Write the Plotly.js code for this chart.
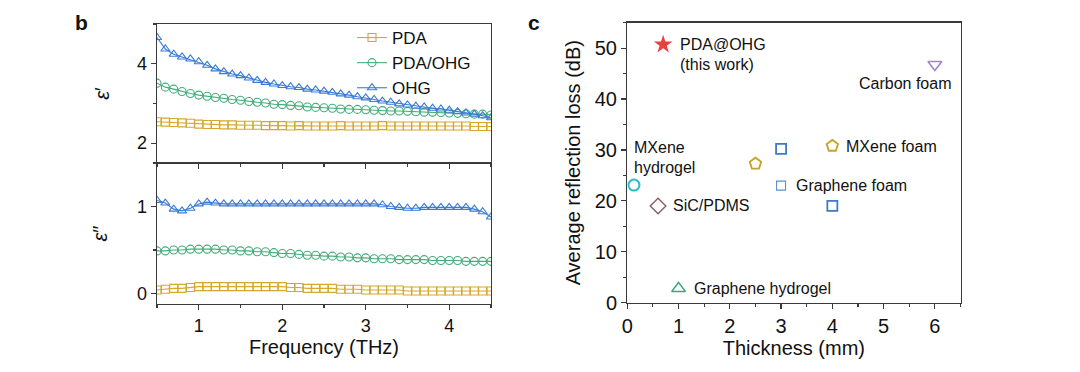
<!DOCTYPE html>
<html>
<head>
<meta charset="utf-8">
<script src="https://cdn.plot.ly/plotly-3.0.1.min.js"></script>
<style>
html,body{margin:0;padding:0;background:#fff;}
#chart{width:1080px;height:372px;}
</style>
</head>
<body>
<div id="chart"></div>
<script>
// ---------- Panel b data ----------
const freq = [0.5,0.6,0.7,0.8,0.9,1.0,1.1,1.2,1.3,1.4,1.5,1.6,1.7,1.8,1.9,2.0,2.1,2.2,2.3,2.4,2.5,2.6,2.7,2.8,2.9,3.0,3.1,3.2,3.3,3.4,3.5,3.6,3.7,3.8,3.9,4.0,4.1,4.2,4.3,4.4,4.5];

const pdaEps1 = [2.54,2.53,2.52,2.51,2.50,2.48,2.47,2.47,2.46,2.46,2.45,2.45,2.45,2.44,2.44,2.44,2.43,2.44,2.43,2.43,2.43,2.43,2.44,2.43,2.43,2.43,2.43,2.44,2.43,2.43,2.43,2.43,2.43,2.43,2.43,2.43,2.43,2.43,2.42,2.42,2.42];
const pdaOhgEps1 = [3.51,3.41,3.36,3.30,3.25,3.21,3.18,3.15,3.13,3.10,3.08,3.05,3.03,3.01,2.98,2.97,2.95,2.94,2.91,2.90,2.89,2.88,2.86,2.85,2.85,2.84,2.83,2.82,2.81,2.81,2.80,2.79,2.78,2.78,2.77,2.76,2.75,2.74,2.73,2.73,2.71];
const ohgEps1 = [4.66,4.37,4.24,4.17,4.12,4.05,3.96,3.87,3.80,3.74,3.70,3.64,3.58,3.53,3.49,3.45,3.42,3.40,3.36,3.34,3.31,3.28,3.24,3.21,3.17,3.14,3.10,3.06,3.03,2.99,2.96,2.93,2.91,2.88,2.86,2.83,2.79,2.76,2.73,2.69,2.64];

const pdaEps2 = [0.04,0.05,0.06,0.06,0.07,0.08,0.08,0.08,0.08,0.08,0.08,0.08,0.08,0.08,0.08,0.08,0.07,0.07,0.06,0.06,0.06,0.06,0.05,0.05,0.05,0.04,0.04,0.04,0.04,0.04,0.03,0.03,0.03,0.03,0.03,0.03,0.03,0.03,0.03,0.03,0.03];
const pdaOhgEps2 = [0.49,0.49,0.50,0.50,0.51,0.51,0.51,0.51,0.50,0.50,0.49,0.49,0.48,0.48,0.47,0.46,0.46,0.45,0.44,0.44,0.43,0.43,0.42,0.42,0.41,0.41,0.40,0.40,0.40,0.39,0.39,0.39,0.39,0.38,0.38,0.38,0.38,0.37,0.37,0.37,0.37];
const ohgEps2 = [1.07,1.04,0.97,0.95,0.98,1.03,1.05,1.04,1.03,1.03,1.03,1.03,1.03,1.03,1.03,1.03,1.03,1.03,1.03,1.03,1.03,1.03,1.03,1.03,1.03,1.03,1.03,1.02,1.00,0.99,0.98,0.98,0.99,0.99,0.99,0.99,0.99,0.99,0.97,0.94,0.88];

const seriesNames = ["PDA","PDA/OHG","OHG"];

// ---------- Panel c data ----------
const materials = ["PDA@OHG","Carbon foam","MXene hydrogel","MXene foam","MXene foam","Graphene foam","Graphene foam","Graphene foam","SiC/PDMS","Graphene hydrogel"];
const thickness = [0.7,6.0,0.13,4.0,2.5,3.0,3.0,4.0,0.6,1.0];
const avgRL = [50.7,46.8,23.1,30.8,27.3,30.2,23.0,19.0,19.0,2.8];

const axisLabels = {
  freq: "Frequency (THz)",
  eps1: "<i>ε</i>′",
  eps2: "<i>ε</i>″",
  thick: "Thickness (mm)",
  rl: "Average reflection loss (dB)"
};

// ---------- styles ----------
const FONT = "Arial, 'Liberation Sans', Helvetica, sans-serif";
const cPDA = "#d5a82e", cPDAOHG = "#44ad7a", cOHG = "#3a7bd5";
const AX = "#3a3a3a";

function lineTrace(y, name, color, symbol, xa, ya, show){
  return {x: freq, y: y, name: name, type: "scatter", mode: "lines+markers",
    xaxis: xa, yaxis: ya, showlegend: show, legendgroup: name,
    line: {color: color, width: 1.1},
    marker: {symbol: symbol, size: 8, color: color, line: {color: color, width: 1.1}}};
}

const traces = [
  lineTrace(pdaEps1, seriesNames[0], cPDA, "square-open", "x", "y", true),
  lineTrace(pdaOhgEps1, seriesNames[1], cPDAOHG, "circle-open", "x", "y", true),
  lineTrace(ohgEps1, seriesNames[2], cOHG, "triangle-up-open", "x", "y", true),
  lineTrace(pdaEps2, seriesNames[0], cPDA, "square-open", "x2", "y2", false),
  lineTrace(pdaOhgEps2, seriesNames[1], cPDAOHG, "circle-open", "x2", "y2", false),
  lineTrace(ohgEps2, seriesNames[2], cOHG, "triangle-up-open", "x2", "y2", false)
];

const pointStyles = [
  {symbol:"star", color:"#e8413e", size:14, lw:0},
  {symbol:"triangle-down-open", color:"#a582d8", size:12, lw:1.6},
  {symbol:"circle-open", color:"#26bdc8", size:11, lw:2},
  {symbol:"pentagon-open", color:"#c9a126", size:12, lw:1.8},
  {symbol:"pentagon-open", color:"#c9a126", size:12, lw:1.8},
  {symbol:"square-open", color:"#3a7cc4", size:10, lw:1.8},
  {symbol:"square-open", color:"#5a92d0", size:9, lw:1.1},
  {symbol:"square-open", color:"#3a7cc4", size:10, lw:1.8},
  {symbol:"diamond-open", color:"#8a6060", size:12, lw:1.4},
  {symbol:"triangle-up-open", color:"#3aa57a", size:12, lw:1.4}
];
for (let i = 0; i < materials.length; i++){
  const s = pointStyles[i];
  traces.push({x:[thickness[i]], y:[avgRL[i]], name: materials[i], type:"scatter", mode:"markers",
    xaxis:"x3", yaxis:"y3", showlegend:false,
    marker:{symbol:s.symbol, size:s.size, color:s.color, line:{color:s.color, width:s.lw}}});
}

function ax(extra){
  return Object.assign({
    showline:true, linecolor:AX, linewidth:1.3, mirror:true,
    ticks:"outside", ticklen:5, tickwidth:1.2, tickcolor:AX,
    showgrid:false, zeroline:false,
    tickfont:{family:FONT, size:18, color:"#111"},
    minor:{ticks:"outside", ticklen:3, tickwidth:1.1, tickcolor:AX, showgrid:false}
  }, extra);
}

const W = 1080, H = 372;
const px = v => v / W, py = v => 1 - v / H;

const layout = {
  width: W, height: H,
  margin: {l:0, r:0, t:0, b:0},
  paper_bgcolor: "#fff", plot_bgcolor: "#fff",
  font: {family: FONT, color: "#111"},
  showlegend: true,
  legend: {x: px(352), y: py(20), xanchor:"left", yanchor:"top",
    bgcolor:"rgba(0,0,0,0)", font:{family:FONT, size:17, color:"#111"},
    tracegroupgap:0, itemwidth:30},
  xaxis: ax({domain:[px(157), px(491)], anchor:"y", range:[0.5,4.5], dtick:1, tick0:0,
    showticklabels:false, minor:{ticks:"outside", ticklen:3, tickwidth:1.1, tickcolor:AX, dtick:0.5, tick0:0}}),
  yaxis: ax({domain:[py(163), py(24)], anchor:"x", range:[1.5,5.0], dtick:2, tick0:0,
    minor:{ticks:"outside", ticklen:3, tickwidth:1.1, tickcolor:AX, dtick:1, tick0:0},
    title:{text:axisLabels.eps1, font:{family:FONT, size:20}, standoff:22}}),
  xaxis2: ax({domain:[px(157), px(491)], anchor:"y2", range:[0.5,4.5], dtick:1, tick0:0,
    minor:{ticks:"outside", ticklen:3, tickwidth:1.1, tickcolor:AX, dtick:0.5, tick0:0},
    title:{text:axisLabels.freq, font:{family:FONT, size:20}, standoff:2}}),
  yaxis2: ax({domain:[py(304), py(163)], anchor:"x2", range:[-0.12,1.5], dtick:1, tick0:0,
    minor:{ticks:"outside", ticklen:3, tickwidth:1.1, tickcolor:AX, dtick:0.5, tick0:0},
    title:{text:axisLabels.eps2, font:{family:FONT, size:20}, standoff:24}}),
  xaxis3: ax({domain:[px(627.3), px(960.5)], anchor:"y3", range:[0,6.5], dtick:1, tick0:0,
    tickfont:{family:FONT, size:20, color:"#111"},
    minor:{ticks:"outside", ticklen:3, tickwidth:1.1, tickcolor:AX, dtick:0.5, tick0:0},
    title:{text:axisLabels.thick, font:{family:FONT, size:20}, standoff:2}}),
  yaxis3: ax({domain:[py(302.7), py(22.7)], anchor:"x3", range:[0,55], dtick:10, tick0:0,
    tickfont:{family:FONT, size:20, color:"#111"},
    minor:{ticks:"outside", ticklen:3, tickwidth:1.1, tickcolor:AX, dtick:5, tick0:0},
    title:{text:axisLabels.rl, font:{family:FONT, size:20}, standoff:8}}),
  annotations: [
    {xref:"paper", yref:"paper", x:px(73), y:py(23), yanchor:"middle", text:"<b>b</b>", showarrow:false, font:{family:FONT, size:21, color:"#111"}},
    {xref:"paper", yref:"paper", x:px(534), y:py(23), yanchor:"middle", text:"<b>c</b>", showarrow:false, font:{family:FONT, size:21, color:"#111"}},
    {xref:"x3", yref:"y3", x:0.99, y:50.7, text:"PDA@OHG", xanchor:"left", showarrow:false, font:{family:FONT, size:16, color:"#111"}},
    {xref:"x3", yref:"y3", x:0.99, y:46.8, text:"(this work)", xanchor:"left", showarrow:false, font:{family:FONT, size:16, color:"#111"}},
    {xref:"x3", yref:"y3", x:6.37, y:43.1, text:"Carbon foam", xanchor:"right", showarrow:false, font:{family:FONT, size:16, color:"#111"}},
    {xref:"x3", yref:"y3", x:0.1, y:30.5, text:"MXene", xanchor:"left", showarrow:false, font:{family:FONT, size:16, color:"#111"}},
    {xref:"x3", yref:"y3", x:0.1, y:26.6, text:"hydrogel", xanchor:"left", showarrow:false, font:{family:FONT, size:16, color:"#111"}},
    {xref:"x3", yref:"y3", x:4.23, y:30.6, text:"MXene foam", xanchor:"left", showarrow:false, font:{family:FONT, size:16, color:"#111"}},
    {xref:"x3", yref:"y3", x:3.26, y:23.1, text:"Graphene foam", xanchor:"left", showarrow:false, font:{family:FONT, size:16, color:"#111"}},
    {xref:"x3", yref:"y3", x:0.86, y:19.0, text:"SiC/PDMS", xanchor:"left", showarrow:false, font:{family:FONT, size:16, color:"#111"}},
    {xref:"x3", yref:"y3", x:1.27, y:2.7, text:"Graphene hydrogel", xanchor:"left", showarrow:false, font:{family:FONT, size:16, color:"#111"}}
  ]
};

Plotly.newPlot("chart", traces, layout, {displayModeBar:false, staticPlot:true});
</script>
</body>
</html>
